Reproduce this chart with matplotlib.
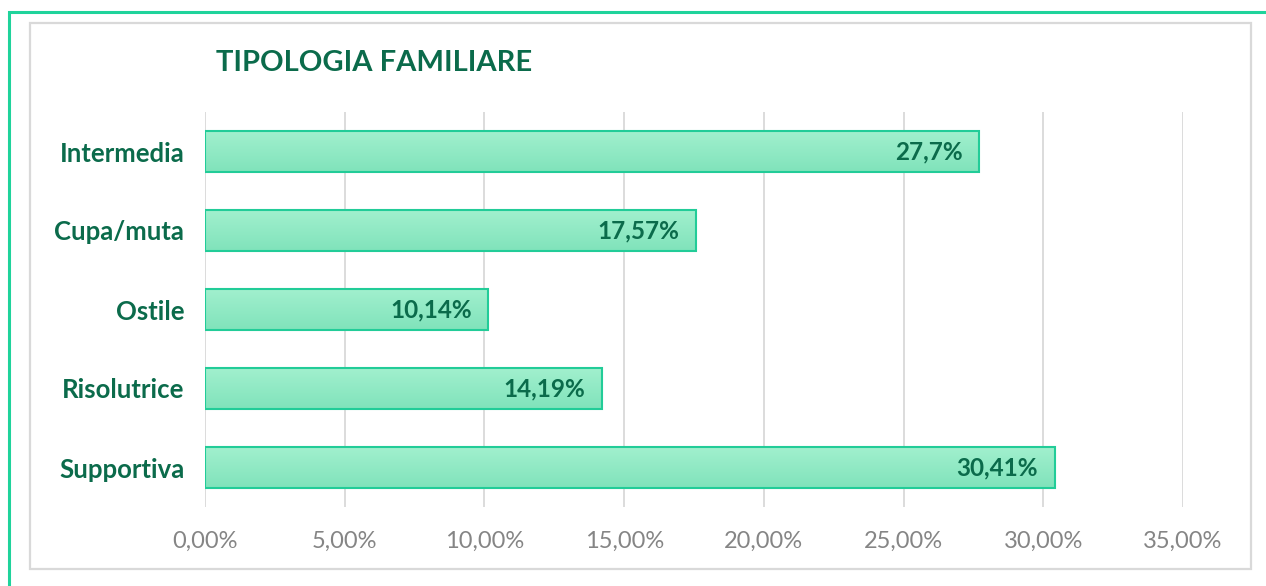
import matplotlib
matplotlib.use("Agg")
import matplotlib.pyplot as plt
import numpy as np
from matplotlib.patches import Rectangle
from matplotlib.colors import LinearSegmentedColormap

categories = ["Intermedia", "Cupa/muta", "Ostile", "Risolutrice", "Supportiva"]
values = [27.7, 17.57, 10.14, 14.19, 30.41]
labels = ["27,7%", "17,57%", "10,14%", "14,19%", "30,41%"]
xticks = [0, 5, 10, 15, 20, 25, 30, 35]
xticklabels = ["0,00%", "5,00%", "10,00%", "15,00%", "20,00%", "25,00%", "30,00%", "35,00%"]
title = "TIPOLOGIA FAMILIARE"

plt.rcParams['font.family'] = ['Lato', 'DejaVu Sans']
dark_green = "#0B6B4B"
edge_green = "#22CC98"

W, H = 1266, 586
fig = plt.figure(figsize=(W / 100, H / 100), dpi=100)

# outer frames
fig.add_artist(Rectangle((9 / W, -0.1), 1.2, 1 - 12 / H + 0.1, transform=fig.transFigure,
                         fill=False, edgecolor="#1FD39B", linewidth=2.2))
fig.add_artist(Rectangle((30 / W, 1 - 569 / H), (1251 - 30) / W, (569 - 23) / H,
                         transform=fig.transFigure, fill=False, edgecolor="#D9D9D9", linewidth=1.6))

ax = fig.add_axes([205 / W, 1 - 507 / H, 978 / W, (507 - 112) / H])
ax.set_xlim(0, 35)
ax.set_ylim(len(categories) - 0.5, -0.5)

cmap = LinearSegmentedColormap.from_list("g", ["#A2F0CE", "#80E3BB"])
grad = np.linspace(0, 1, 64).reshape(-1, 1)
bar_h = 0.52
for i, (v, lab) in enumerate(zip(values, labels)):
    y0 = i - bar_h / 2
    im = ax.imshow(grad, cmap=cmap, aspect="auto", extent=(0, v, i + bar_h / 2, y0),
                   origin="upper", zorder=2)
    r = Rectangle((0, y0), v, bar_h, facecolor="none", edgecolor=edge_green, linewidth=1.5, zorder=3)
    ax.add_patch(r)
    im.set_clip_path(r)
    ax.text(v - 0.6, i, lab, ha="right", va="center", fontsize=17.5, fontweight="bold",
            color=dark_green, zorder=4)

ax.set_xlim(0, 35)
ax.set_ylim(len(categories) - 0.5, -0.5)
ax.set_xticks(xticks)
ax.set_xticklabels(xticklabels, fontsize=17, color="#858585")
ax.set_yticks(range(len(categories)))
ax.set_yticklabels(categories, fontsize=18.5, fontweight="bold", color=dark_green)
ax.tick_params(axis="x", length=0, pad=17)
ax.tick_params(axis="y", length=0, pad=15)
ax.grid(axis="x", color="#D9D9D9", linewidth=1.3, zorder=0)
ax.set_axisbelow(True)
for s in ax.spines.values():
    s.set_visible(False)

fig.text(216 / W, 1 - 63 / H, title, fontsize=21, fontweight="bold", color=dark_green,
         ha="left", va="center")

fig.savefig("out.png", dpi=100, facecolor="white")
